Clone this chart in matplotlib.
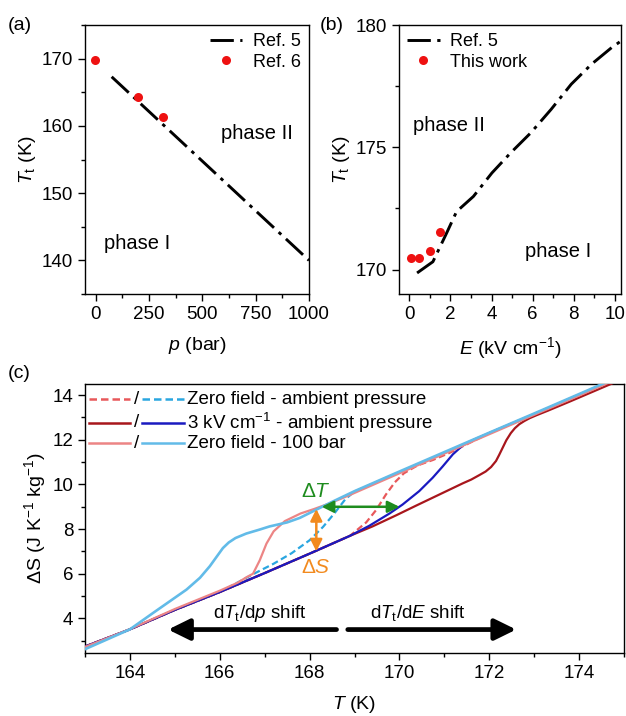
import matplotlib
matplotlib.use("Agg")
import matplotlib.pyplot as plt
from matplotlib.ticker import MultipleLocator
from matplotlib.lines import Line2D

plt.rcParams['font.family'] = ['Liberation Sans', 'DejaVu Sans']
plt.rcParams['mathtext.fontset'] = 'custom'
plt.rcParams['mathtext.rm'] = 'Liberation Sans'
plt.rcParams['mathtext.it'] = 'Liberation Sans:italic'
plt.rcParams['mathtext.bf'] = 'Liberation Sans:bold'
plt.rcParams['font.size'] = 13.5
plt.rcParams['axes.linewidth'] = 1.0

# ---------------- data ----------------
# (a) transition temperature vs pressure
p_ref5 = [75, 1000]
Tt_p_ref5 = [167.3, 140.0]
p_ref6 = [-5, 200, 315]
Tt_p_ref6 = [169.8, 164.3, 161.3]

# (b) transition temperature vs electric field
E_ref5 = [0.38, 1.15, 1.81, 2.30, 3.12, 4.02, 4.93, 5.91, 6.90, 7.88, 8.87, 9.85, 10.43]
Tt_E_ref5 = [169.86, 170.32, 171.48, 172.37, 172.99, 173.95, 174.77, 175.59, 176.55, 177.58, 178.40, 179.08, 179.42]
E_work = [0.08, 0.49, 0.99, 1.48]
Tt_E_work = [170.49, 170.49, 170.77, 171.55]

# (c) entropy curves
T_zf_heat = [163.0, 164.0, 165.0, 166.0, 167.0, 168.0, 168.9, 169.26, 169.48, 169.7, 169.9, 170.1,
             170.4, 170.75, 171.1, 171.5, 171.8, 172.0, 173.0, 174.0, 174.8]
S_zf_heat = [2.74, 3.51, 4.38, 5.18, 6.03, 6.90, 7.70, 8.30, 8.85, 9.55, 10.10, 10.50,
             10.85, 11.10, 11.40, 11.80, 12.10, 12.30, 13.15, 14.02, 14.72]

T_zf_cool = [163.0, 164.0, 165.0, 166.0, 166.78, 167.2, 167.6, 168.0, 168.3, 168.55, 168.8, 169.0,
             170.0, 171.0, 172.0, 173.0, 174.0, 174.8]
S_zf_cool = [2.74, 3.51, 4.38, 5.18, 6.02, 6.45, 6.92, 7.50, 8.10, 8.70, 9.35, 9.68,
             10.55, 11.42, 12.30, 13.15, 14.02, 14.72]

T_3kv_heat = [163.0, 164.0, 165.0, 166.0, 167.0, 168.0, 168.9, 169.4, 169.93, 170.37, 170.89, 171.41,
              171.6, 171.78, 171.92, 172.04, 172.15, 172.22, 172.3, 172.38, 172.48, 172.57, 172.67,
              172.78, 172.9, 173.05, 173.3, 173.8, 174.3, 174.8]
S_3kv_heat = [2.74, 3.51, 4.38, 5.18, 6.03, 6.90, 7.70, 8.12, 8.62, 9.05, 9.55, 10.05,
              10.22, 10.42, 10.58, 10.78, 11.05, 11.32, 11.65, 11.98, 12.30, 12.52, 12.70,
              12.84, 12.97, 13.10, 13.30, 13.72, 14.15, 14.58]

T_3kv_cool = [163.0, 164.0, 165.0, 166.0, 167.0, 168.0, 168.9, 169.33, 169.78, 170.07, 170.44, 170.74,
              170.96, 171.19, 171.41, 171.63, 172.0, 173.0, 174.0, 174.8]
S_3kv_cool = [2.74, 3.51, 4.38, 5.18, 6.03, 6.90, 7.70, 8.15, 8.70, 9.10, 9.70, 10.30,
              10.80, 11.35, 11.75, 11.98, 12.30, 13.15, 14.02, 14.72]

T_100_heat = [163.0, 164.0, 165.0, 166.0, 166.4, 166.6, 166.74, 166.89, 167.04, 167.2, 167.45, 167.8,
              168.1, 168.4, 168.7, 169.0, 170.0, 171.0, 172.0, 173.0, 174.0, 174.8]
S_100_heat = [2.72, 3.52, 4.42, 5.24, 5.60, 5.85, 6.00, 6.60, 7.35, 7.90, 8.36, 8.70,
              8.90, 9.12, 9.36, 9.62, 10.50, 11.38, 12.25, 13.12, 13.98, 14.68]

T_100_cool = [163.0, 164.0, 164.52, 164.89, 165.26, 165.56, 165.78, 165.93, 166.07, 166.2, 166.35, 166.59,
              166.89, 167.11, 167.5, 167.78, 168.0, 168.2, 168.5, 169.0, 170.0, 171.0, 172.0, 173.0,
              174.0, 174.8]
S_100_cool = [2.62, 3.51, 4.25, 4.77, 5.29, 5.82, 6.34, 6.76, 7.15, 7.40, 7.60, 7.80,
              7.98, 8.12, 8.30, 8.50, 8.72, 8.92, 9.22, 9.70, 10.58, 11.45, 12.32, 13.18,
              14.05, 14.75]

# annotations in (c)
dT_arrow_T = [168.27, 170.0]
dT_arrow_S = 9.0
dS_arrow_T = 168.15
dS_arrow_S = [7.0, 8.9]
shift_p_T = [168.6, 164.85]
shift_E_T = [168.85, 172.6]
shift_S = 3.5

legend_labels_c = ['Zero field - ambient pressure',
                   '3 kV cm$^{-1}$ - ambient pressure',
                   'Zero field - 100 bar']

# ---------------- styles ----------------
dashdot = (0, (8, 2.2, 1.2, 2.2))
c_red_dash = '#E8585A'
c_blue_dash = '#2AA6E0'
c_dark_red = '#A8161C'
c_dark_blue = '#1A1AC0'
c_pink = '#EC8585'
c_light_blue = '#62BBE8'


def style_axes(ax):
    ax.tick_params(which='both', direction='out', top=False, right=False, labelsize=13.5)
    ax.tick_params(which='major', length=5, width=1.0)
    ax.tick_params(which='minor', length=3, width=1.0)


fig = plt.figure(figsize=(6.26, 7.16), dpi=100)

# ---------------- (a) ----------------
axa = fig.add_axes([85/626, 1 - 294/716, 224/626, 269/716])
axa.plot(p_ref5, Tt_p_ref5, color='black', lw=2.1, linestyle=dashdot, label='Ref. 5')
axa.plot(p_ref6, Tt_p_ref6, 'o', color='#EE1111', ms=6.5, mec='none', label='Ref. 6')
axa.set_xlim(-50, 1000)
axa.set_ylim(135, 175)
axa.xaxis.set_major_locator(MultipleLocator(250))
axa.xaxis.set_minor_locator(MultipleLocator(125))
axa.yaxis.set_major_locator(MultipleLocator(10))
axa.yaxis.set_minor_locator(MultipleLocator(5))
style_axes(axa)
axa.set_xlabel('$p$ (bar)', fontsize=14, labelpad=9)
axa.set_ylabel('$T_\\mathrm{t}$ (K)', fontsize=14, labelpad=3)
axa.text(755, 158.9, 'phase II', ha='center', va='center', fontsize=14.5)
axa.text(192, 142.5, 'phase I', ha='center', va='center', fontsize=14.5)
axa.legend(loc='upper right', frameon=False, fontsize=13, handlelength=1.8,
           handletextpad=0.6, labelspacing=0.2, borderaxespad=0.25, borderpad=0.2)
fig.text(8/626, 1 - 25/716, '(a)', ha='left', va='center', fontsize=14)

# ---------------- (b) ----------------
axb = fig.add_axes([399/626, 1 - 294/716, 222/626, 269/716])
axb.plot(E_ref5, Tt_E_ref5, color='black', lw=2.1, linestyle=dashdot, label='Ref. 5')
axb.plot(E_work, Tt_E_work, 'o', color='#EE1111', ms=6.5, mec='none', label='This work')
axb.set_xlim(-0.5, 10.3)
axb.set_ylim(169, 180)
axb.xaxis.set_major_locator(MultipleLocator(2))
axb.xaxis.set_minor_locator(MultipleLocator(1))
axb.yaxis.set_major_locator(MultipleLocator(5))
axb.yaxis.set_minor_locator(MultipleLocator(2.5))
style_axes(axb)
axb.set_xlabel('$E$ (kV cm$^{-1}$)', fontsize=14, labelpad=9)
axb.set_ylabel('$T_\\mathrm{t}$ (K)', fontsize=14, labelpad=3)
axb.text(1.94, 175.9, 'phase II', ha='center', va='center', fontsize=14.5)
axb.text(7.26, 170.75, 'phase I', ha='center', va='center', fontsize=14.5)
axb.legend(loc='upper left', frameon=False, fontsize=13, handlelength=1.8,
           handletextpad=0.6, labelspacing=0.2, borderaxespad=0.25, borderpad=0.2)
fig.text(320/626, 1 - 25/716, '(b)', ha='left', va='center', fontsize=14)

# ---------------- (c) ----------------
axc = fig.add_axes([85/626, 1 - 653/716, 539/626, 269/716])
lw_c = 1.6
axc.plot(T_zf_cool, S_zf_cool, color=c_blue_dash, lw=lw_c, linestyle=(0, (3, 1.6)), zorder=2)
axc.plot(T_zf_heat, S_zf_heat, color=c_red_dash, lw=lw_c, linestyle=(0, (3, 1.6)), zorder=2)
axc.plot(T_3kv_heat, S_3kv_heat, color=c_dark_red, lw=lw_c, zorder=3)
axc.plot(T_3kv_cool, S_3kv_cool, color=c_dark_blue, lw=lw_c, zorder=4)
axc.plot(T_100_heat, S_100_heat, color=c_pink, lw=lw_c, zorder=5)
axc.plot(T_100_cool, S_100_cool, color=c_light_blue, lw=lw_c + 0.3, zorder=6)

axc.set_xlim(163, 175)
axc.set_ylim(2.45, 14.5)
axc.xaxis.set_major_locator(MultipleLocator(2))
axc.xaxis.set_minor_locator(MultipleLocator(1))
axc.yaxis.set_major_locator(MultipleLocator(2))
axc.yaxis.set_minor_locator(MultipleLocator(1))
style_axes(axc)
axc.set_xlabel('$T$ (K)', fontsize=14, labelpad=9)
axc.set_ylabel('ΔS (J K$^{-1}$ kg$^{-1}$)', fontsize=14, labelpad=3)
fig.text(8/626, 1 - 374/716, '(c)', ha='left', va='center', fontsize=14)

# ΔT and ΔS arrows
axc.annotate('', xy=(dT_arrow_T[0], dT_arrow_S), xytext=(dT_arrow_T[1], dT_arrow_S),
             arrowprops=dict(arrowstyle='<|-|>,head_length=0.5,head_width=0.25', color='#1E8C1E',
                             lw=1.8, shrinkA=0, shrinkB=0, mutation_scale=14), zorder=8)
axc.annotate('', xy=(dS_arrow_T, dS_arrow_S[0]), xytext=(dS_arrow_T, dS_arrow_S[1]),
             arrowprops=dict(arrowstyle='<|-|>,head_length=0.5,head_width=0.25', color='#F28A1E',
                             lw=1.8, shrinkA=0, shrinkB=0, mutation_scale=14), zorder=8)
axc.text(168.15, 9.7, 'Δ$T$', color='#1E8C1E', ha='center', va='center', fontsize=15)
axc.text(168.15, 6.3, 'Δ$S$', color='#F28A1E', ha='center', va='center', fontsize=15)

# shift arrows
axc.annotate('', xy=(shift_p_T[1], shift_S), xytext=(shift_p_T[0], shift_S),
             arrowprops=dict(arrowstyle='-|>,head_length=0.65,head_width=0.32', color='black',
                             lw=3.4, shrinkA=0, shrinkB=0, mutation_scale=20), zorder=8)
axc.annotate('', xy=(shift_E_T[1], shift_S), xytext=(shift_E_T[0], shift_S),
             arrowprops=dict(arrowstyle='-|>,head_length=0.65,head_width=0.32', color='black',
                             lw=3.4, shrinkA=0, shrinkB=0, mutation_scale=20), zorder=8)
axc.text(166.9, 4.2, 'd$T_\\mathrm{t}$/d$p$ shift', ha='center', va='center', fontsize=13.5)
axc.text(170.4, 4.25, 'd$T_\\mathrm{t}$/d$E$ shift', ha='center', va='center', fontsize=13.5)

# paired legend (heating / cooling)
rows_y = [0.943, 0.856, 0.780]
pairs = [(c_red_dash, c_blue_dash, (0, (3, 1.6))),
         (c_dark_red, c_dark_blue, '-'),
         (c_pink, c_light_blue, '-')]
for y, (cr, cb, ls), lab in zip(rows_y, pairs, legend_labels_c):
    axc.add_line(Line2D([0.007, 0.083], [y, y], transform=axc.transAxes, color=cr, lw=1.8,
                        linestyle=ls, zorder=9))
    axc.text(0.095, y, '/', transform=axc.transAxes, ha='center', va='center', fontsize=13.5)
    axc.add_line(Line2D([0.106, 0.184], [y, y], transform=axc.transAxes, color=cb, lw=1.8,
                        linestyle=ls, zorder=9))
    axc.text(0.189, y, lab, transform=axc.transAxes, ha='left', va='center', fontsize=13.5)

fig.savefig('out.png', dpi=100)
